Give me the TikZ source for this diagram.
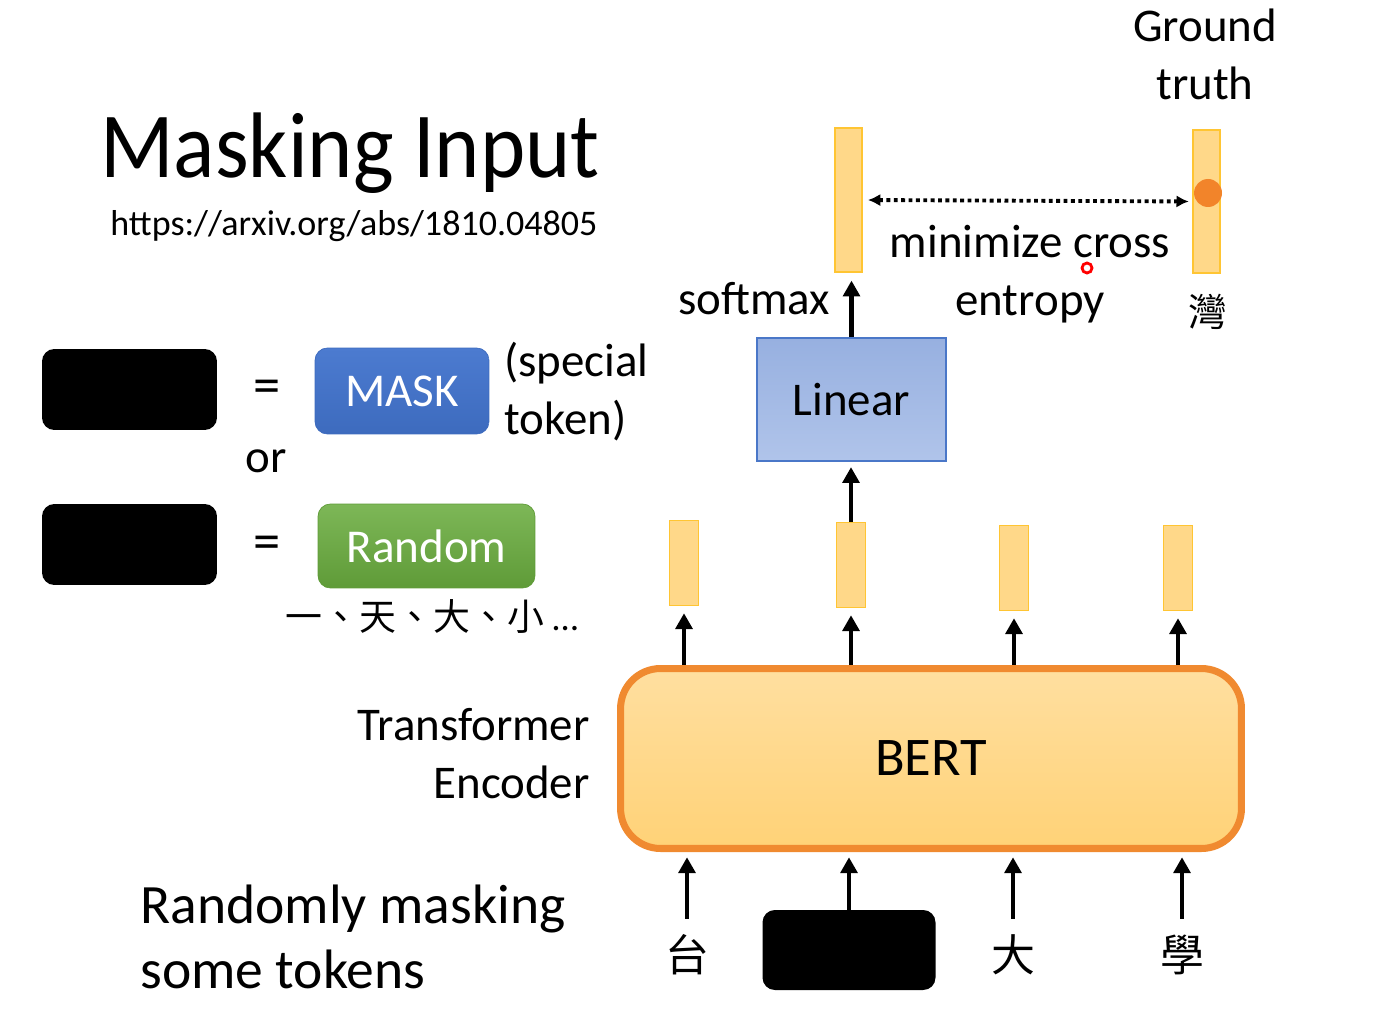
\documentclass[tikz,border=0pt]{standalone}
\usepackage{fontspec}
\setmainfont{Carlito}
\newfontfamily\cjk{Noto Sans CJK TC}
\newfontfamily\titlefont[FakeStretch=0.925]{Carlito}
\usetikzlibrary{arrows.meta}

\definecolor{vecfill}{HTML}{FFD889}
\definecolor{vecline}{HTML}{FFC533}
\definecolor{berttop}{HTML}{FFDFA0}
\definecolor{bertbot}{HTML}{FFD277}
\definecolor{bertline}{HTML}{F08A30}
\definecolor{lintop}{HTML}{97B0E0}
\definecolor{linbot}{HTML}{B0C4EA}
\definecolor{linline}{HTML}{4A77C8}
\definecolor{masktop}{HTML}{4C7BD0}
\definecolor{maskbot}{HTML}{3D6BBE}
\definecolor{randtop}{HTML}{7DB757}
\definecolor{randbot}{HTML}{5F9B38}
\definecolor{dotc}{HTML}{F2842A}

\begin{document}
\begin{tikzpicture}[x=0.02cm,y=-0.02cm,
    lbl/.style={font=\fontsize{26.7}{33}\selectfont, inner sep=0pt},
    big/.style={font=\fontsize{31.6}{37}\selectfont, inner sep=0pt},
    tok/.style={font=\cjk\fontsize{25}{30}\selectfont, inner sep=0pt},
    blk/.style={fill=black, rounded corners=7pt, minimum width=3.5cm, minimum height=1.62cm},
    vec/.style={fill=vecfill, draw=vecline, line width=0.8pt, minimum width=0.58cm, minimum height=1.7cm, inner sep=0pt},
    arr/.style={-{Triangle[length=9pt,width=9.5pt]}, line width=2.6pt},
    dotarr/.style={{Latex[length=7pt,width=7pt]}-{Latex[length=7pt,width=7pt]}, line width=2.2pt, dotted, shorten <=3pt, shorten >=2pt},
  ]
    \useasboundingbox (0,0) rectangle (1391,1026);

    % I
    \node[anchor=base west, inner sep=0pt, font=\titlefont\fontsize{53}{60}\selectfont] (title) at (100,178) {Masking Input};
    \node[anchor=base west, inner sep=0pt, font=\fontsize{20.5}{24}\selectfont] (url) at (110,236) {https://arxiv.org/abs/1810.04805};

    \node[blk] (b1) at (129.5,389.5) {};
    \node[blk] (b2) at (129.5,544.5) {};
    \node[lbl, font=\fontsize{31}{33}\selectfont] (eq1) at (267,392) {=};
    \node[lbl, font=\fontsize{31}{33}\selectfont] (eq2) at (267,548) {=};
    \node[lbl, anchor=base] (or) at (266,472) {or};

    \node[top color=masktop, bottom color=maskbot, draw=maskbot, rounded corners=7pt, minimum width=3.48cm, minimum height=1.72cm, text=white, font=\fontsize{26.8}{32}\selectfont] (mask) at (402,391) {MASK};
    \node[lbl, align=left, anchor=west] (spec) at (504,392) {(special\\token)};

    \node[top color=randtop, bottom color=randbot, draw=randbot, rounded corners=7pt, minimum width=4.34cm, minimum height=1.68cm, text=white, font=\fontsize{26.8}{32}\selectfont] (rand) at (426.5,546) {Random};
    \node[inner sep=0pt, font=\cjk\fontsize{21}{25}\selectfont] (rchars) at (432,617) {一、天、大、小{\rmfamily\ …}};

    % II
    \node[top color=berttop, bottom color=bertbot, draw=bertline, line width=4pt, rounded corners=0.8cm, minimum width=12.42cm, minimum height=3.6cm, font=\fontsize{31}{37}\selectfont] (bert) at (931,758.5) {BERT};
    \node[lbl, align=right, anchor=east] (enc) at (590,754) {Transformer\\Encoder};

    \node[tok] (t1) at (687,955) {台};
    \node[blk, minimum width=3.46cm, minimum height=1.6cm] (t2) at (849,950) {};
    \node[tok] (t3) at (1013,955) {大};
    \node[tok] (t4) at (1182,955) {學};
    \foreach \n in {1,3,4}
        \draw[arr, shorten <=9pt, shorten >=3pt] (t\n.north) -- (t\n.north |- bert.south);
    \draw[arr, shorten >=3pt] (t2.north) -- (t2.north |- bert.south);

    \node[big, align=left, anchor=west] (rm) at (140,937) {Randomly masking\\some tokens};

    \foreach \n/\x/\y in {1/684/563, 2/851/565, 3/1014/568, 4/1178/568}
        \node[vec] (v\n) at (\x,\y) {};
    \foreach \n in {1,...,4}
        \draw[arr, shorten >=4pt] (bert.north -| v\n) -- (v\n.south);

    % III
    \node[top color=lintop, bottom color=linbot, draw=linline, line width=1pt, minimum width=3.78cm, minimum height=2.46cm, font=\fontsize{26.7}{32}\selectfont] (lin) at (851.5,399.5) {Linear};
    \draw[arr, shorten >=3pt] (v2.north) -- (v2.north |- lin.south);

    \node[vec, minimum width=0.54cm, minimum height=2.88cm] (out) at (848.5,200) {};
    \draw[arr, shorten >=4.5pt] (lin.north) -- (lin.north |- out.south);
    \node[lbl, anchor=base west] (smax) at (678,315) {softmax};

    \node[vec, minimum width=0.54cm, minimum height=2.86cm] (gt) at (1206.5,201.5) {};
    \node[circle, fill=dotc, minimum size=0.56cm, inner sep=0pt] (gtdot) at (1208,193) {};
    \node[lbl, align=center] (gtl) at (1205,54) {Ground\\truth};
    \node[tok, font=\cjk\fontsize{22}{26}\selectfont] (wan) at (1208,312) {灣};

    \draw[dotarr] (out.east) -- (gt.west);
    \node[lbl, align=center] (ce) at (1030,274) {minimize cross\\entropy};

    \node[circle, draw=red, fill=white, line width=1.6pt, minimum size=0.2cm, inner sep=0pt] (laser) at (1087,268) {};
\end{tikzpicture}
\end{document}
